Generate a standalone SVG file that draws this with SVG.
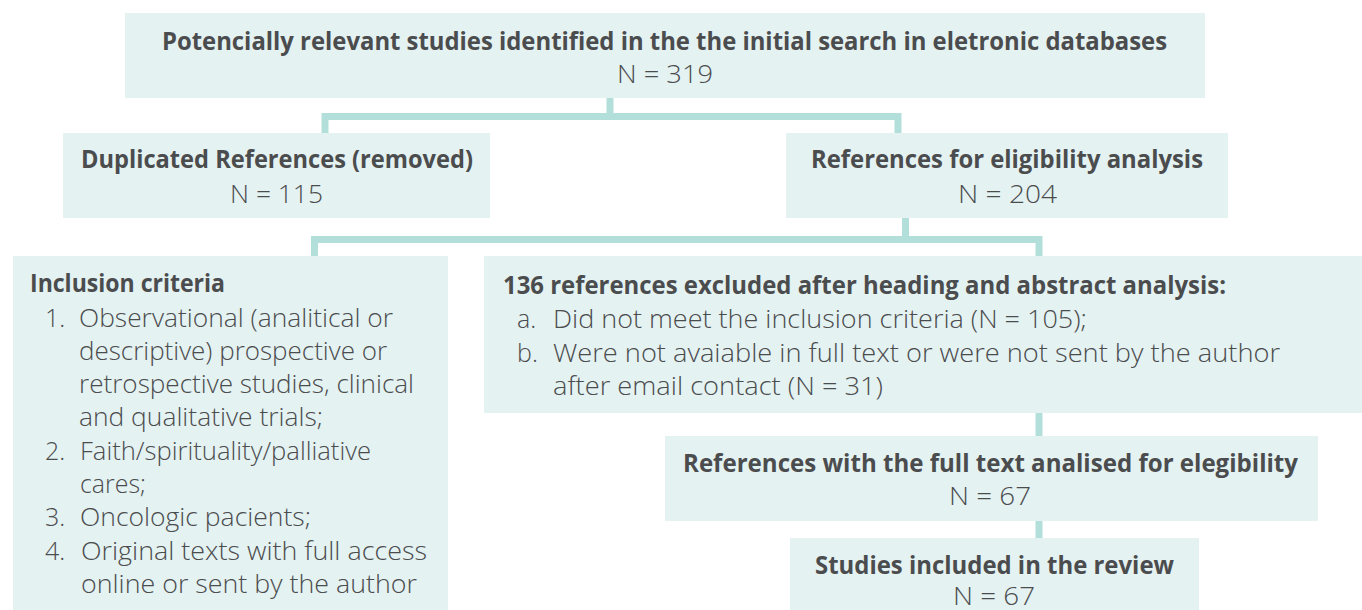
<svg xmlns="http://www.w3.org/2000/svg" width="1362" height="610" viewBox="0 0 1362 610">
<style>
.box{fill:#e4f2f2;}
.t{font-family:"Open Sans","Noto Sans","Liberation Sans",sans-serif;font-size:25px;font-weight:300;fill:#4b4c4e;}
.b{font-weight:bold;}
.c{fill:none;stroke:#b3dfda;stroke-width:7;stroke-linejoin:miter;stroke-linecap:butt;}
</style>
<rect width="1362" height="610" fill="#ffffff"/>
<g id="connectors">
<path class="c" d="M325,133 V116.5 H898 V133 M610,98 V116.5"/>
<path class="c" d="M314.5,256 V239.5 H1039 V256 M905.5,218 V239.5"/>
<path class="c" d="M1039,413 V436"/>
<path class="c" d="M1039,521 V538"/>
</g>
<g id="node-initial">
<rect class="box" x="125" y="13" width="1080" height="85"/>
<text class="t b" x="162" y="50" textLength="1005" lengthAdjust="spacingAndGlyphs">Potencially relevant studies identified in the the initial search in eletronic databases</text>
<text class="t" x="617" y="83" textLength="96" lengthAdjust="spacingAndGlyphs">N = 319</text>
</g>
<g id="node-duplicated">
<rect class="box" x="63" y="133" width="427" height="85"/>
<text class="t b" x="81" y="168" textLength="392" lengthAdjust="spacingAndGlyphs">Duplicated References (removed)</text>
<text class="t" x="230" y="203" textLength="93" lengthAdjust="spacingAndGlyphs">N = 115</text>
</g>
<g id="node-eligibility">
<rect class="box" x="786" y="133" width="442" height="85"/>
<text class="t b" x="811" y="168" textLength="392" lengthAdjust="spacingAndGlyphs">References for eligibility analysis</text>
<text class="t" x="958" y="203" textLength="99" lengthAdjust="spacingAndGlyphs">N = 204</text>
</g>
<g id="node-inclusion">
<rect class="box" x="13" y="256" width="435" height="354"/>
<text class="t b" x="30" y="292" textLength="195" lengthAdjust="spacingAndGlyphs">Inclusion criteria</text>
<text class="t" x="45" y="327">1.</text>
<text class="t" x="79" y="327" textLength="314" lengthAdjust="spacingAndGlyphs">Observational (analitical or</text>
<text class="t" x="79" y="360" textLength="308" lengthAdjust="spacingAndGlyphs">descriptive) prospective or</text>
<text class="t" x="79" y="393" textLength="335" lengthAdjust="spacingAndGlyphs">retrospective studies, clinical</text>
<text class="t" x="79" y="426" textLength="244" lengthAdjust="spacingAndGlyphs">and qualitative trials;</text>
<text class="t" x="45" y="460">2.</text>
<text class="t" x="80" y="460" textLength="291" lengthAdjust="spacingAndGlyphs">Faith/spirituality/palliative</text>
<text class="t" x="80" y="493" textLength="66" lengthAdjust="spacingAndGlyphs">cares;</text>
<text class="t" x="45" y="526">3.</text>
<text class="t" x="80" y="526" textLength="231" lengthAdjust="spacingAndGlyphs">Oncologic pacients;</text>
<text class="t" x="45" y="560">4.</text>
<text class="t" x="81" y="560" textLength="346" lengthAdjust="spacingAndGlyphs">Original texts with full access</text>
<text class="t" x="81" y="593" textLength="336" lengthAdjust="spacingAndGlyphs">online or sent by the author</text>
</g>
<g id="node-excluded">
<rect class="box" x="484" y="256" width="878" height="157"/>
<text class="t b" x="503" y="294" textLength="723" lengthAdjust="spacingAndGlyphs">136 references excluded after heading and abstract analysis:</text>
<text class="t" x="517" y="328">a.</text>
<text class="t" x="553" y="328" textLength="534" lengthAdjust="spacingAndGlyphs">Did not meet the inclusion criteria (N = 105);</text>
<text class="t" x="517" y="362">b.</text>
<text class="t" x="553" y="362" textLength="727" lengthAdjust="spacingAndGlyphs">Were not avaiable in full text or were not sent by the author</text>
<text class="t" x="553" y="395" textLength="330" lengthAdjust="spacingAndGlyphs">after email contact (N = 31)</text>
</g>
<g id="node-fulltext">
<rect class="box" x="665" y="436" width="653" height="85"/>
<text class="t b" x="683" y="472" textLength="615" lengthAdjust="spacingAndGlyphs">References with the full text analised for elegibility</text>
<text class="t" x="949" y="505" textLength="82" lengthAdjust="spacingAndGlyphs">N = 67</text>
</g>
<g id="node-included">
<rect class="box" x="790" y="538" width="409" height="72"/>
<text class="t b" x="815" y="574" textLength="359" lengthAdjust="spacingAndGlyphs">Studies included in the review</text>
<text class="t" x="953" y="605" textLength="82" lengthAdjust="spacingAndGlyphs">N = 67</text>
</g>
</svg>
